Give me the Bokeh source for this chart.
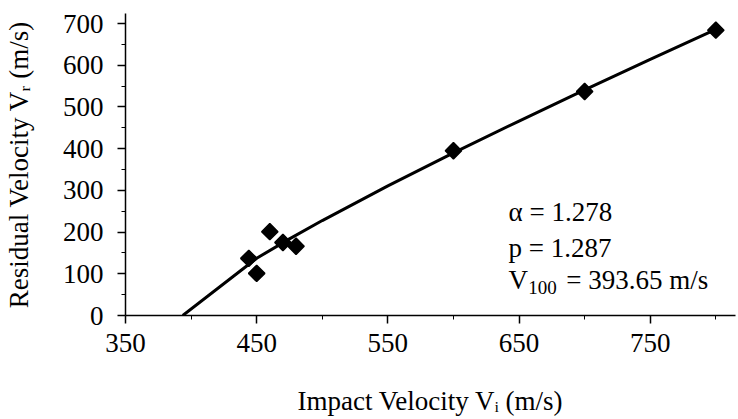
import math
from bokeh.plotting import figure
from bokeh.models import FixedTicker, Range1d, Label
from bokeh.embed import file_html
from bokeh.resources import INLINE

# measured points (impact velocity, residual velocity)
vi_points = [444, 450, 460, 470, 480, 600, 700, 800]
vr_points = [137, 101, 201, 175, 166, 395, 537, 684]

# fitted curve
curve_vi = [393.65, 450, 475, 500, 550, 600, 650, 700, 750, 800]
curve_vr = [0, 137.2, 183.7, 227.6, 310.7, 389.7, 466.2, 540.8, 614.1, 686.2]

x_major = [350, 450, 550, 650, 750]
x_minor = [400, 500, 600, 700, 800]
y_major = [0, 100, 200, 300, 400, 500, 600, 700]
y_minor = [50, 150, 250, 350, 450, 550, 650]

x_title = "Impact Velocity V\u1d62 (m/s)"
y_title = "Residual Velocity V\u1d63 (m/s)"
alpha_text = "\u03b1 = 1.278"
p_text = "p = 1.287"
v_main, v_sub, v_rest = "V", "100", "= 393.65 m/s"

FONT = "Liberation Serif"
FS = "27px"

p = figure(width=738, height=419, output_backend="svg", toolbar_location=None,
           x_range=Range1d(350, 815), y_range=Range1d(0, 724),
           min_border_left=124, min_border_right=3, min_border_top=13, min_border_bottom=104)
p.outline_line_color = None
p.xgrid.visible = False
p.ygrid.visible = False
p.background_fill_color = "white"
p.border_fill_color = "white"

p.line(curve_vi, curve_vr, line_color="black", line_width=3)
p.scatter(vi_points, vr_points, marker="square", angle=math.pi / 4, size=11.5,
          fill_color="black", line_color="black", line_width=1.5)

p.xaxis.ticker = FixedTicker(ticks=x_major, minor_ticks=x_minor)
p.yaxis.ticker = FixedTicker(ticks=y_major, minor_ticks=y_minor)

for ax in (p.xaxis[0], p.yaxis[0]):
    ax.axis_line_color = "black"
    ax.axis_line_width = 1.5
    ax.major_tick_line_color = "black"
    ax.minor_tick_line_color = "black"
    ax.major_tick_line_width = 1.5
    ax.minor_tick_line_width = 1
    ax.major_tick_in = 0
    ax.major_tick_out = 8
    ax.minor_tick_in = 0
    ax.minor_tick_out = 4
    ax.major_label_text_font = FONT
    ax.major_label_text_font_size = FS
    ax.major_label_text_color = "black"
    ax.axis_label_text_font = FONT
    ax.axis_label_text_font_size = FS
    ax.axis_label_text_font_style = "normal"
    ax.axis_label_text_color = "black"

p.xaxis.axis_label = x_title
p.yaxis.axis_label = y_title
p.xaxis.major_label_standoff = 10
p.xaxis.axis_label_standoff = 31
p.yaxis.major_label_standoff = 14
p.yaxis.axis_label_standoff = 26

def ann(x, y, text, size=FS):
    p.add_layout(Label(x=x, y=y, text=text, text_font=FONT, text_font_size=size,
                       text_color="black", text_baseline="middle", text_align="left"))

ann(642, 247, alpha_text)
ann(642, 163, p_text)
ann(642, 84, v_main)
ann(657, 67, v_sub, "19px")
ann(686, 84, v_rest)

open("out.html", "w").write(file_html(p, INLINE))
